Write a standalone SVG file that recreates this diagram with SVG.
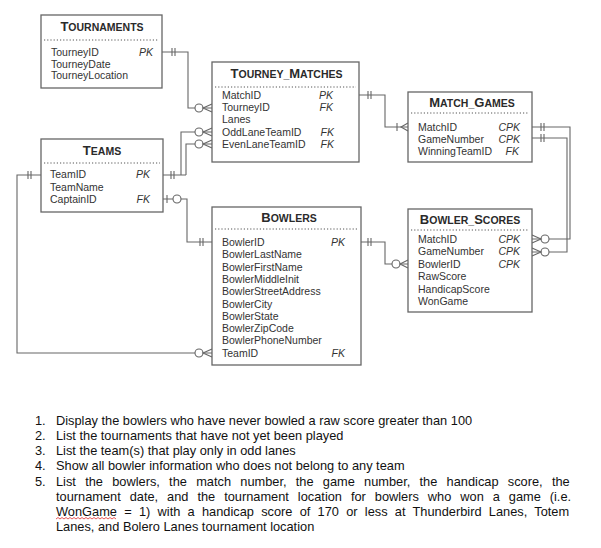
<svg xmlns="http://www.w3.org/2000/svg" width="601" height="548" viewBox="0 0 601 548">
<style>
.box{fill:#fff;stroke:#666;stroke-width:1.3}
.dot{stroke:#555;stroke-width:1;stroke-dasharray:1.2,2;fill:none}
.t{font-family:"Liberation Sans",Arial,sans-serif;font-weight:bold;fill:#2a2a2a;text-anchor:middle}
.big{font-size:13px}
.sm{font-size:10.5px}
.f{font-family:"Liberation Sans",Arial,sans-serif;font-size:10.5px;fill:#333}
.k{font-family:"Liberation Sans",Arial,sans-serif;font-size:10.5px;fill:#333;font-style:italic;text-anchor:end}
.c{fill:none;stroke:#666;stroke-width:1.1}
.m{fill:#fff;stroke:#666;stroke-width:1.1}
.q{font-family:"Liberation Sans",Arial,sans-serif;font-size:12.8px;fill:#111}
</style>
<rect width="601" height="548" fill="#fff"/>

<g id="connectors">
  <!-- TOURNAMENTS.TourneyID -> TOURNEY_MATCHES.TourneyID -->
  <path class="c" d="M162,52 H188 V108 H212"/>
  <path class="c" d="M172,48 V56 M175,48 V56"/>
  <circle class="m" cx="199" cy="108" r="4"/>
  <path class="c" d="M212,104 L203,108 L212,112"/>
  <!-- TOURNEY_MATCHES.MatchID -> MATCH_GAMES.MatchID -->
  <path class="c" d="M359,95 H385 V127 H408"/>
  <path class="c" d="M368,91 V99 M371,91 V99"/>
  <path class="c" d="M397,123 V131"/>
  <path class="c" d="M408,123 L401,127 L408,131"/>
  <!-- MATCH_GAMES.MatchID -> BOWLER_SCORES.MatchID -->
  <path class="c" d="M532,127 H570 V239 H532"/>
  <path class="c" d="M541,123 V131 M544,123 V131"/>
  <circle class="m" cx="545" cy="239" r="4"/>
  <path class="c" d="M532,235 L541,239 L532,243"/>
  <!-- MATCH_GAMES.GameNumber -> BOWLER_SCORES.GameNumber -->
  <path class="c" d="M532,138 H567 V252 H532"/>
  <path class="c" d="M541,134 V142 M544,134 V142"/>
  <circle class="m" cx="545" cy="252" r="4"/>
  <path class="c" d="M532,248 L541,252 L532,256"/>
  <!-- TEAMS.TeamID -> TOURNEY_MATCHES.OddLane / EvenLane -->
  <path class="c" d="M163,175 H186 M181,175 V132 H212 M186,175 V144 H212"/>
  <path class="c" d="M171,171 V179 M174,171 V179"/>
  <circle class="m" cx="199" cy="132" r="4"/>
  <path class="c" d="M212,128 L203,132 L212,136"/>
  <circle class="m" cx="199" cy="144" r="4"/>
  <path class="c" d="M212,140 L203,144 L212,148"/>
  <!-- TEAMS.TeamID -> BOWLERS.TeamID -->
  <path class="c" d="M41,175 H17 V353 H212"/>
  <path class="c" d="M28,171 V179 M31,171 V179"/>
  <circle class="m" cx="199" cy="353" r="4"/>
  <path class="c" d="M212,349 L203,353 L212,357"/>
  <!-- TEAMS.CaptainID -> BOWLERS.BowlerID -->
  <path class="c" d="M163,199 H187 V242 H212"/>
  <path class="c" d="M167,195 V203"/>
  <circle class="m" cx="177" cy="199" r="4"/>
  <path class="c" d="M200,238 V246 M203,238 V246"/>
  <!-- BOWLERS.BowlerID -> BOWLER_SCORES.BowlerID -->
  <path class="c" d="M361,242 H385 V264 H408"/>
  <path class="c" d="M368,238 V246 M371,238 V246"/>
  <circle class="m" cx="396" cy="264" r="4"/>
  <path class="c" d="M408,260 L400,264 L408,268"/>
</g>

<g id="tournaments">
  <rect class="box" x="41" y="15" width="121" height="73"/>
  <text class="t" x="102" y="31"><tspan class="big">T</tspan><tspan class="sm">OURNAMENTS</tspan></text>
  <line class="dot" x1="44" y1="40" x2="159" y2="40"/>
  <text class="f" x="51" y="56">TourneyID</text>
  <text class="k" x="153" y="56">PK</text>
  <text class="f" x="51" y="67.5">TourneyDate</text>
  <text class="f" x="51" y="79">TourneyLocation</text>
</g>

<g id="tourney_matches">
  <rect class="box" x="212" y="62" width="147" height="100"/>
  <text class="t" x="286.5" y="78"><tspan class="big">T</tspan><tspan class="sm">OURNEY_</tspan><tspan class="big">M</tspan><tspan class="sm">ATCHES</tspan></text>
  <line class="dot" x1="215" y1="87" x2="356" y2="87"/>
  <text class="f" x="222" y="99">MatchID</text>
  <text class="k" x="333" y="99">PK</text>
  <text class="f" x="222" y="111.2">TourneyID</text>
  <text class="k" x="333" y="111.2">FK</text>
  <text class="f" x="222" y="123.4">Lanes</text>
  <text class="f" x="222" y="135.6">OddLaneTeamID</text>
  <text class="k" x="334" y="135.6">FK</text>
  <text class="f" x="222" y="147.8">EvenLaneTeamID</text>
  <text class="k" x="334" y="147.8">FK</text>
</g>

<g id="match_games">
  <rect class="box" x="408" y="92" width="124" height="70"/>
  <text class="t" x="472" y="107"><tspan class="big">M</tspan><tspan class="sm">ATCH_</tspan><tspan class="big">G</tspan><tspan class="sm">AMES</tspan></text>
  <line class="dot" x1="411" y1="113" x2="529" y2="113"/>
  <text class="f" x="418" y="131">MatchID</text>
  <text class="k" x="520" y="131">CPK</text>
  <text class="f" x="418" y="142.5">GameNumber</text>
  <text class="k" x="520" y="142.5">CPK</text>
  <text class="f" x="418" y="154.5">WinningTeamID</text>
  <text class="k" x="519" y="154.5">FK</text>
</g>

<g id="teams">
  <rect class="box" x="41" y="139" width="122" height="73"/>
  <text class="t" x="102" y="155"><tspan class="big">T</tspan><tspan class="sm">EAMS</tspan></text>
  <line class="dot" x1="44" y1="163" x2="160" y2="163"/>
  <text class="f" x="50" y="178">TeamID</text>
  <text class="k" x="150" y="178">PK</text>
  <text class="f" x="50" y="190.5">TeamName</text>
  <text class="f" x="50" y="203">CaptainID</text>
  <text class="k" x="150" y="203">FK</text>
</g>

<g id="bowlers">
  <rect class="box" x="212" y="207" width="149" height="158"/>
  <text class="t" x="289" y="222"><tspan class="big">B</tspan><tspan class="sm">OWLERS</tspan></text>
  <line class="dot" x1="215" y1="229" x2="358" y2="229"/>
  <text class="f" x="222" y="246">BowlerID</text>
  <text class="k" x="345" y="246">PK</text>
  <text class="f" x="222" y="258.3">BowlerLastName</text>
  <text class="f" x="222" y="270.6">BowlerFirstName</text>
  <text class="f" x="222" y="282.9">BowlerMiddleInit</text>
  <text class="f" x="222" y="295.2">BowlerStreetAddress</text>
  <text class="f" x="222" y="307.5">BowlerCity</text>
  <text class="f" x="222" y="319.8">BowlerState</text>
  <text class="f" x="222" y="332.1">BowlerZipCode</text>
  <text class="f" x="222" y="344.4">BowlerPhoneNumber</text>
  <text class="f" x="222" y="356.7">TeamID</text>
  <text class="k" x="345" y="356.7">FK</text>
</g>

<g id="bowler_scores">
  <rect class="box" x="408" y="209" width="124" height="103"/>
  <text class="t" x="470" y="224"><tspan class="big">B</tspan><tspan class="sm">OWLER_</tspan><tspan class="big">S</tspan><tspan class="sm">CORES</tspan></text>
  <line class="dot" x1="411" y1="230" x2="529" y2="230"/>
  <text class="f" x="418" y="243">MatchID</text>
  <text class="k" x="520" y="243">CPK</text>
  <text class="f" x="418" y="255.4">GameNumber</text>
  <text class="k" x="520" y="255.4">CPK</text>
  <text class="f" x="418" y="267.8">BowlerID</text>
  <text class="k" x="520" y="267.8">CPK</text>
  <text class="f" x="418" y="280.2">RawScore</text>
  <text class="f" x="418" y="292.6">HandicapScore</text>
  <text class="f" x="418" y="305">WonGame</text>
</g>

<g id="questions">
  <text class="q" x="35" y="425">1.</text>
  <text class="q" x="56" y="425">Display the bowlers who have never bowled a raw score greater than 100</text>
  <text class="q" x="35" y="440">2.</text>
  <text class="q" x="56" y="440">List the tournaments that have not yet been played</text>
  <text class="q" x="35" y="455">3.</text>
  <text class="q" x="56" y="455">List the team(s) that play only in odd lanes</text>
  <text class="q" x="35" y="470">4.</text>
  <text class="q" x="56" y="470">Show all bowler information who does not belong to any team</text>
  <text class="q" x="35" y="486">5.</text>
  <text class="q" x="56" y="486" word-spacing="5.7">List the bowlers, the match number, the game number, the handicap score, the</text>
  <text class="q" x="56" y="501" word-spacing="5.4">tournament date, and the tournament location for bowlers who won a game (i.e.</text>
  <text class="q" x="56" y="516" word-spacing="3.7">WonGame = 1) with a handicap score of 170 or less at Thunderbird Lanes, Totem</text>
  <text class="q" x="56" y="531">Lanes, and Bolero Lanes tournament location</text>
  <path d="M56,519 l2,-1.5 l2,1.5 l2,-1.5 l2,1.5 l2,-1.5 l2,1.5 l2,-1.5 l2,1.5 l2,-1.5 l2,1.5 l2,-1.5 l2,1.5 l2,-1.5 l2,1.5 l2,-1.5 l2,1.5 l2,-1.5 l2,1.5 l2,-1.5 l2,1.5 l2,-1.5 l2,1.5 l2,-1.5 l2,1.5 l2,-1.5 l2,1.5 l2,-1.5 l2,1.5 l2,-1.5 l2,1.5" fill="none" stroke="#e03030" stroke-width="0.8"/>
</g>
</svg>
